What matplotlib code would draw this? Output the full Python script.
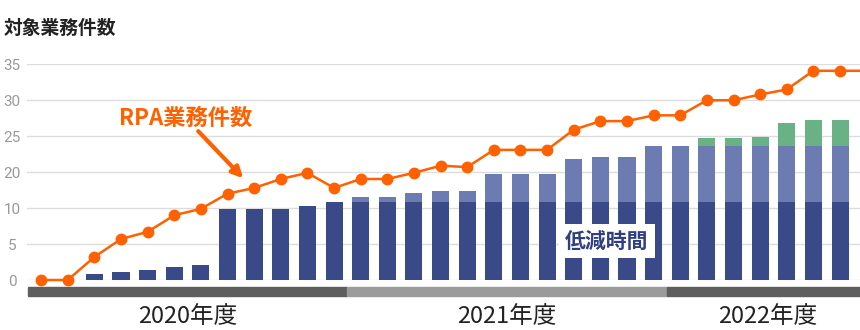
import numpy as np
import matplotlib
matplotlib.use("Agg")
import matplotlib.pyplot as plt
from matplotlib.patches import Rectangle

plt.rcParams['font.family'] = ['Noto Sans CJK JP', 'DejaVu Sans']

# one entry per month, Apr 2020 .. Nov 2022 (last month sits just past the right edge)
fiscal_year = [2020] * 12 + [2021] * 12 + [2022] * 8
year_labels = {2020: '2020年度', 2021: '2021年度', 2022: '2022年度'}

rpa_count = [0, 0, 3.2, 5.7, 6.7, 9.0, 9.9, 14.0, 15.6, 18.1, 19.8, 15.6,
             18.1, 18.1, 19.8, 20.9, 20.7, 23.1, 23.1, 23.1, 25.9, 27.1, 27.1, 27.9,
             27.9, 30.0, 30.0, 30.8, 31.5, 34.1, 34.1, 34.1]
# bars run Apr 2020 .. Oct 2022
navy = [0, 0, 0.8, 1.1, 1.4, 1.8, 2.1, 9.9, 9.9, 9.9, 10.6, 11.7,
        11.7, 11.7, 11.7, 11.7, 11.7, 11.7, 11.7, 11.7, 11.7, 11.7, 11.7, 11.7,
        11.7, 11.7, 11.7, 11.7, 11.7, 11.7, 11.7]
light = [0, 0, 0, 0, 0, 0, 0, 0, 0, 0, 0, 0,
         1.4, 1.4, 2.5, 3.0, 3.0, 7.7, 7.7, 7.7, 10.1, 10.4, 10.4, 11.9,
         11.9, 11.9, 11.9, 11.9, 11.9, 11.9, 11.9]
green = [0] * 25 + [1.1, 1.1, 1.3, 3.2, 3.6, 3.6]

yticks = [0, 5, 10, 20, 25, 30, 35]

NAVY = '#3a4a88'
LIGHT = '#6c7cb2'
GREEN = '#69b286'
ORANGE = '#ff6000'


# the original axis skips 15: 10 -> 20 takes one grid step
def fwd(v):
    v = np.asarray(v, dtype=float)
    return np.where(v <= 10, v, np.where(v <= 20, 10 + (v - 10) / 2, v - 5))


def inv(p):
    p = np.asarray(p, dtype=float)
    return np.where(p <= 10, p, np.where(p <= 15, 10 + 2 * (p - 10), p + 5))


fig = plt.figure(figsize=(8.6, 3.3), dpi=100)
ax = fig.add_axes([27 / 860, 50 / 330, 833 / 860, 215.7 / 330])
ax.set_yscale('function', functions=(fwd, inv))

navy_a = np.array(navy)
light_a = np.array(light)
green_a = np.array(green)
xb = np.arange(len(navy))
x = np.arange(len(rpa_count))

w = 0.64
ax.bar(xb, navy_a, w, color=NAVY, zorder=2)
ax.bar(xb, light_a, w, bottom=navy_a, color=LIGHT, zorder=2)
ax.bar(xb, green_a, w, bottom=navy_a + light_a, color=GREEN, zorder=2)

ax.plot(x, rpa_count, color=ORANGE, lw=1.8, marker='o', markersize=7.5,
        zorder=4, clip_on=False)

ax.set_xlim(-0.53, 30.75)
ax.set_ylim(0, 35)
ax.set_yticks(yticks)
ax.set_yticklabels([str(t) for t in yticks])
ax.yaxis.grid(True, color='#dddddd', lw=1)
ax.set_axisbelow(True)
ax.set_xticks([])
ax.tick_params(axis='y', length=0, pad=10.8, labelsize=11, labelcolor='#999999')
for lab in ax.get_yticklabels():
    lab.set_ha('center')
    lab.set_family(['Roboto', 'DejaVu Sans'])
for s in ax.spines.values():
    s.set_visible(False)

# fiscal-year bands under the axis
fy = np.array(fiscal_year)
band_colors = ['#5e5e5e', '#9b9b9b', '#5e5e5e']
trans = ax.get_xaxis_transform()
for k, yr in enumerate(sorted(set(fiscal_year))):
    idx = np.where(fy == yr)[0]
    x0, x1 = idx[0] - 0.5, idx[-1] + 0.5
    ax.add_patch(Rectangle((x0, -0.0742), x1 - x0, 0.0417, transform=trans,
                           color=band_colors[k], clip_on=False, zorder=1))
    xc = min((x0 + x1) / 2, 27.3)
    ax.text(xc, -0.17, year_labels[yr], transform=trans, ha='center',
            va='center', fontsize=17, color='#222222')

fig.text(4 / 860, 1 - 28 / 330, '対象業務件数', ha='left', va='center',
         fontsize=13.5, fontweight='bold', color='#222222')

ax.text(5.41, 27.5, 'RPA業務件数', ha='center', va='center', fontsize=16,
        fontweight='bold', color=ORANGE)
ax.annotate('', xy=(7.59, 18.3), xytext=(5.9, 25.7),
            arrowprops=dict(arrowstyle='-|>', color=ORANGE, lw=3,
                            mutation_scale=16, shrinkA=0, shrinkB=0))

ax.text(21.25, 5.42, '低減時間', ha='center', va='center', fontsize=15,
        fontweight='bold', color='#2f3f80', zorder=5,
        bbox=dict(boxstyle='square,pad=0.3', fc='white', ec='none'))

fig.savefig('out.png', dpi=100)
